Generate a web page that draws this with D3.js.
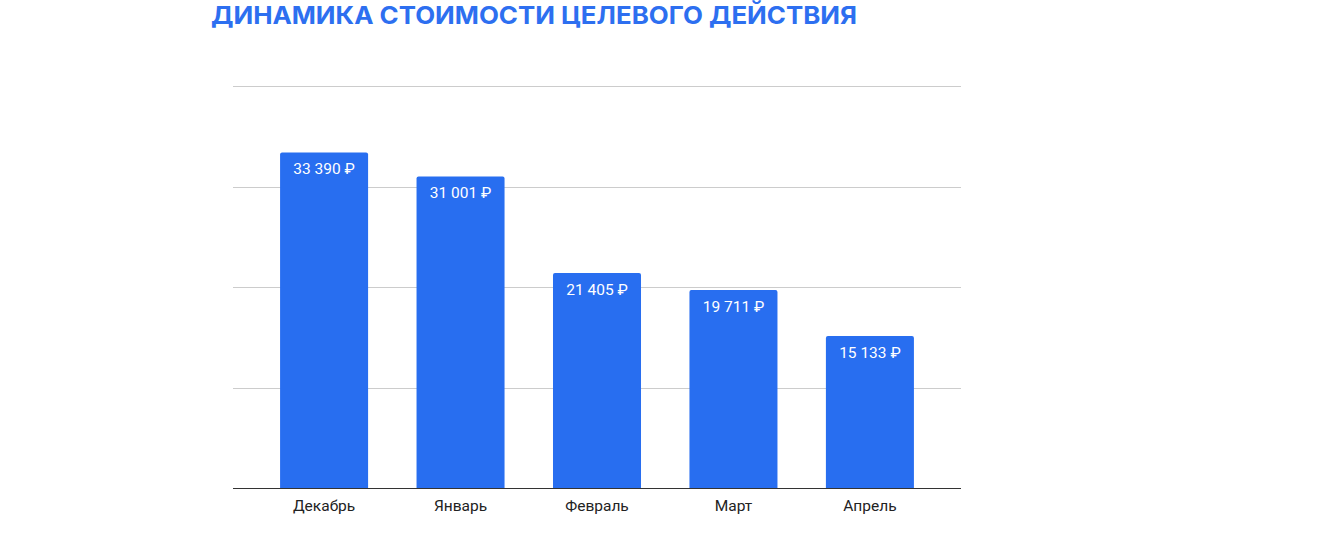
<!DOCTYPE html>
<html><head><meta charset="utf-8">
<script src="https://cdn.jsdelivr.net/npm/d3@7"></script>
<style>body{margin:0;background:#fff;}svg{display:block;}</style>
</head><body>
<svg id="c" width="1340" height="536"></svg>
<script>
const categories = ["Декабрь","Январь","Февраль","Март","Апрель"];
const values = [33390, 31001, 21405, 19711, 15133];
const valueLabels = ["33 390 ₽","31 001 ₽","21 405 ₽","19 711 ₽","15 133 ₽"];
const gridTicks = [0, 10000, 20000, 30000, 40000];
const title = "ДИНАМИКА СТОИМОСТИ ЦЕЛЕВОГО ДЕЙСТВИЯ";

const svg = d3.select("#c");
const L = 233, R = 961, T = 86, B = 488;
const x = d3.scaleBand().domain(categories).range([L, R]).paddingInner(0.355).paddingOuter(0.345);
const y = d3.scaleLinear().domain([0, 40000]).range([B, T]);

svg.append("text").attr("x", 211).attr("y", 24)
  .attr("font-family", "Inter, 'DejaVu Sans', sans-serif").attr("font-weight", 700)
  .attr("font-size", 24.5).attr("fill", "#2d6ff0")
  .attr("textLength", 646).attr("lengthAdjust", "spacingAndGlyphs")
  .text(title);

svg.append("g").selectAll("line").data(gridTicks.filter(d => d > 0)).join("line")
  .attr("x1", L).attr("x2", R).attr("y1", d => Math.round(y(d)) + 0.5).attr("y2", d => Math.round(y(d)) + 0.5)
  .attr("stroke", "#cccccc").attr("stroke-width", 1);

const bw = x.bandwidth();
svg.append("g").selectAll("path").data(values).join("path")
  .attr("fill", "#286ef0")
  .attr("d", (d, i) => {
    const x0 = x(categories[i]), y0 = y(d), r = 2;
    return `M${x0},${B}V${y0 + r}Q${x0},${y0} ${x0 + r},${y0}H${x0 + bw - r}Q${x0 + bw},${y0} ${x0 + bw},${y0 + r}V${B}Z`;
  });

svg.append("g").selectAll("text").data(values).join("text")
  .attr("x", (d, i) => x(categories[i]) + bw / 2).attr("y", d => y(d) + 22)
  .attr("text-anchor", "middle").attr("font-family", "Roboto, sans-serif")
  .attr("font-size", 15.5).attr("fill", "#ffffff")
  .text((d, i) => valueLabels[i]);

svg.append("line").attr("x1", L).attr("x2", R).attr("y1", B + 0.5).attr("y2", B + 0.5)
  .attr("stroke", "#333333").attr("stroke-width", 1);

const ax = d3.axisBottom(x).tickSize(0).tickPadding(12);
const g = svg.append("g").attr("transform", `translate(0,${B})`).call(ax);
g.select(".domain").remove();
g.selectAll("text").attr("font-family", "Roboto, sans-serif").attr("font-size", 15.5).attr("fill", "#222222");
</script>
</body></html>
